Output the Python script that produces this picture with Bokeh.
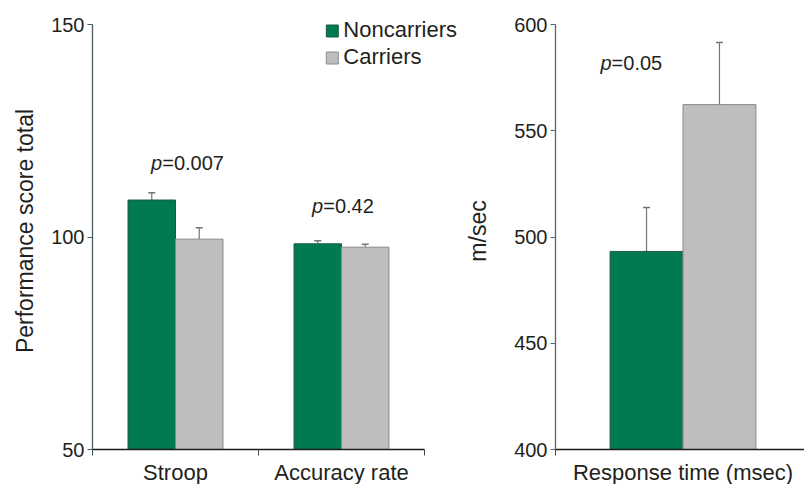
from bokeh.plotting import figure
from bokeh.models import (ColumnDataSource, FixedTicker, Range1d, Whisker, TeeHead,
                          Legend, LegendItem)
from bokeh.layouts import row
from bokeh.core.properties import value
from bokeh.embed import file_html
from bokeh.resources import INLINE

# ---------------- data ----------------
categories = ["Stroop", "Accuracy rate"]
noncarriers = [108.7, 98.4]
carriers = [99.5, 97.6]
noncarriers_sem = [1.7, 0.7]
carriers_sem = [2.7, 0.7]
p_texts = ["=0.007", "=0.42"]

rt_category = ["Response time (msec)"]
rt_noncarriers = [493.2]
rt_carriers = [562.3]
rt_noncarriers_sem = [20.7]
rt_carriers_sem = [29.2]
rt_p_text = ["=0.05"]

left_ticks = [50, 100, 150]
right_ticks = [400, 450, 500, 550, 600]

# ---------------- style ----------------
FONT = "Liberation Sans"
GREEN = "#007a50"
GREEN_LINE = "#1f5a40"
GREY = "#bebebe"
GREY_LINE = "#8a8a8a"
TEXT = "#231f20"
ERR = "#6e787e"
BAR_W = 0.286
FRAME_TOP = 12
FRAME_H = 437
PAD_PX = 12  # frame space above the top tick


def style_axes(p, yaxis_color):
    p.outline_line_color = None
    p.xgrid.visible = False
    p.ygrid.visible = False
    for ax in p.yaxis:
        ax.axis_line_color = yaxis_color
        ax.axis_line_width = 1.3
        ax.major_tick_line_color = yaxis_color
        ax.minor_tick_line_color = None
        ax.major_tick_out = 5
        ax.major_tick_in = 0
        ax.major_label_standoff = 3
        ax.major_label_text_font = FONT
        ax.major_label_text_font_size = "20px"
        ax.major_label_text_color = TEXT
        ax.axis_label_text_font = FONT
        ax.axis_label_text_font_size = "23px"
        ax.axis_label_text_font_style = "normal"
        ax.axis_label_text_color = TEXT
    for ax in p.xaxis:
        ax.axis_line_color = "#1c1c1c"
        ax.axis_line_width = 1.4
        ax.major_tick_line_color = None
        ax.major_tick_out = 0
        ax.major_tick_in = 0
        ax.minor_tick_line_color = "#3a474e"
        ax.minor_tick_out = 6
        ax.minor_tick_in = 0
        ax.major_label_standoff = 4
        ax.major_label_text_font = FONT
        ax.major_label_text_font_size = "22px"
        ax.major_label_text_color = TEXT


def add_bars(p, centers, vals_n, vals_c, sem_n, sem_c):
    xn = [c - BAR_W / 2 for c in centers]
    xc = [c + BAR_W / 2 for c in centers]
    src_n = ColumnDataSource(dict(x=xn, top=vals_n, upper=[v + s for v, s in zip(vals_n, sem_n)]))
    src_c = ColumnDataSource(dict(x=xc, top=vals_c, upper=[v + s for v, s in zip(vals_c, sem_c)]))
    for src in (src_n, src_c):
        p.add_layout(Whisker(source=src, base="x", lower="top", upper="upper",
                             dimension="height", line_color=ERR, line_width=1.2,
                             upper_head=TeeHead(size=7, line_color=ERR, line_width=1.5),
                             lower_head=None, level="underlay"))
    rn = p.vbar(x="x", top="top", bottom=p.y_range.start, width=BAR_W, source=src_n,
                fill_color=GREEN, line_color=GREEN_LINE, line_width=1)
    rc = p.vbar(x="x", top="top", bottom=p.y_range.start, width=BAR_W, source=src_c,
                fill_color=GREY, line_color=GREY_LINE, line_width=1)
    return rn, rc


def add_p(p, xs, ys, texts):
    p.text(x=xs, y=ys, text=["p"] * len(xs), text_font=value(FONT), text_font_style="italic",
           text_font_size="20px", text_align="right", text_baseline="alphabetic", text_color=TEXT)
    p.text(x=xs, y=ys, text=texts, text_font=value(FONT), text_font_size="20px",
           text_align="left", text_baseline="alphabetic", text_color=TEXT)


# ---------------- left panel ----------------
lo, hi = left_ticks[0], left_ticks[-1]
y_end_l = hi + (hi - lo) * PAD_PX / (FRAME_H - PAD_PX)
p1 = figure(title=None, frame_width=370, frame_height=FRAME_H,
            x_range=Range1d(0, 370 / 166), y_range=Range1d(lo, y_end_l),
            min_border_left=92, min_border_right=0, min_border_top=FRAME_TOP,
            min_border_bottom=0, toolbar_location=None, output_backend="svg",
            background_fill_color="white", border_fill_color="white")
centers = [i + 0.5 for i in range(len(categories))]
rn, rc = add_bars(p1, centers, noncarriers, carriers, noncarriers_sem, carriers_sem)
add_p(p1, [0.42, 1.39], [117.4, 107.2], p_texts)
style_axes(p1, "#4a5860")
p1.yaxis.ticker = FixedTicker(ticks=left_ticks)
p1.yaxis.bounds = (lo, hi)
p1.yaxis.axis_label = "Performance score total"
p1.yaxis.axis_label_standoff = 10
p1.xaxis.ticker = FixedTicker(ticks=centers, minor_ticks=list(range(len(categories) + 1)))
p1.xaxis.major_label_overrides = {c: n for c, n in zip(centers, categories)}
p1.xaxis.bounds = (0, len(categories))

legend = Legend(items=[LegendItem(label="Noncarriers", renderers=[rn]),
                       LegendItem(label="Carriers", renderers=[rc])],
                location="top_right", margin=5, padding=2, spacing=1,
                glyph_width=15, glyph_height=15, label_standoff=4,
                label_text_font=FONT, label_text_font_size="22px", label_text_color=TEXT,
                border_line_color=None, background_fill_alpha=0)
p1.add_layout(legend)

# ---------------- right panel ----------------
lo2, hi2 = right_ticks[0], right_ticks[-1]
y_end_r = hi2 + (hi2 - lo2) * PAD_PX / (FRAME_H - PAD_PX)
p2 = figure(title=None, frame_width=255, frame_height=FRAME_H,
            x_range=Range1d(0, 1), y_range=Range1d(lo2, y_end_r),
            min_border_left=87, min_border_right=0, min_border_top=FRAME_TOP,
            min_border_bottom=0, toolbar_location=None, output_backend="svg",
            background_fill_color="white", border_fill_color="white")
add_bars(p2, [0.5], rt_noncarriers, rt_carriers, rt_noncarriers_sem, rt_carriers_sem)
add_p(p2, [0.22], [581.7], rt_p_text)
style_axes(p2, "#5a666d")
p2.yaxis.ticker = FixedTicker(ticks=right_ticks)
p2.yaxis.bounds = (lo2, hi2)
p2.yaxis.axis_label = "m/sec"
p2.yaxis.axis_label_standoff = 20
p2.xaxis.ticker = FixedTicker(ticks=[0.5], minor_ticks=[0, 1])
p2.xaxis.major_label_overrides = {0.5: rt_category[0]}
p2.xaxis.bounds = (0, 1)

layout = row(p1, p2)
open("out.html", "w").write(file_html(layout, INLINE))
